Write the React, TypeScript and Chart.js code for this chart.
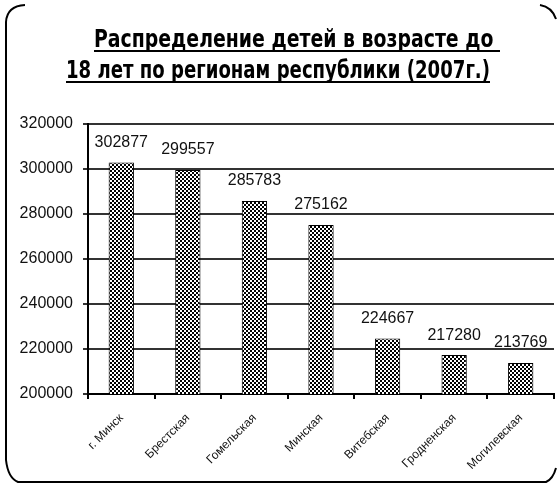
import React, { useEffect, useRef } from "react";
import { Chart, registerables } from "chart.js";

Chart.register(...registerables);

const categories = ["г. Минск", "Брестская", "Гомельская", "Минская", "Витебская", "Гродненская", "Могилевская"];
const values = [302877, 299557, 285783, 275162, 224667, 217280, 213769];
const titleLines = ["Распределение детей в возрасте до ", "18 лет по регионам республики (2007г.)"];
const yMin = 200000;
const yMax = 320000;
const yStep = 20000;

function makePattern(): CanvasPattern | string {
  const c = document.createElement("canvas");
  c.width = 4;
  c.height = 4;
  const g = c.getContext("2d");
  if (!g) return "#666";
  g.fillStyle = "#fff";
  g.fillRect(0, 0, 4, 4);
  g.fillStyle = "#000";
  g.fillRect(0, 0, 2, 2);
  g.fillRect(2, 2, 2, 2);
  const p = g.createPattern(c, "repeat");
  return p || "#666";
}

const framePlugin = {
  id: "frameAndTitle",
  afterDraw(chart: any) {
    const ctx = chart.ctx as CanvasRenderingContext2D;
    ctx.save();
    // frame
    ctx.strokeStyle = "#000";
    ctx.lineWidth = 2;
    ctx.beginPath();
    ctx.moveTo(25, 5);
    ctx.quadraticCurveTo(7, 6, 6, 22);
    ctx.lineTo(6, 460);
    ctx.quadraticCurveTo(8, 478, 18, 482);
    ctx.lineTo(546, 482);
    ctx.quadraticCurveTo(553, 479, 556, 468);
    ctx.moveTo(540, 5);
    ctx.quadraticCurveTo(552, 7, 556, 19);
    ctx.stroke();

    // title
    const specs = [
      { cx: 297, base: 47, w: 406 },
      { cx: 278, base: 78, w: 424 },
    ];
    ctx.fillStyle = "#000";
    ctx.font = 'bold 25px "Liberation Sans Narrow", "DejaVu Sans Condensed", Arial, sans-serif';
    ctx.textBaseline = "alphabetic";
    ctx.textAlign = "center";
    titleLines.forEach((t, i) => {
      const s = specs[i];
      const m = ctx.measureText(t).width;
      const sx = s.w / m;
      ctx.save();
      ctx.translate(s.cx, s.base);
      ctx.scale(sx, 1);
      ctx.fillText(t, 0, 0);
      ctx.restore();
      ctx.fillRect(s.cx - s.w / 2, s.base + 3, s.w, 2);
    });

    // value labels
    const meta = chart.getDatasetMeta(0);
    ctx.font = '16px "Liberation Sans", Arial, sans-serif';
    ctx.fillStyle = "#111";
    ctx.textAlign = "center";
    ctx.textBaseline = "middle";
    meta.data.forEach((bar: any, i: number) => {
      ctx.fillText(String(values[i]), bar.x, bar.y - 20);
    });
    ctx.restore();
  },
};

export default function App() {
  const ref = useRef<HTMLCanvasElement | null>(null);
  useEffect(() => {
    if (!ref.current) return;
    const chart = new Chart(ref.current, {
      type: "bar",
      data: {
        labels: categories,
        datasets: [
          {
            data: values,
            backgroundColor: makePattern() as any,
            borderColor: "#000",
            borderWidth: 1,
            categoryPercentage: 1,
            barPercentage: 0.38,
          },
        ],
      },
      options: {
        animation: false,
        responsive: false,
        layout: { padding: { left: 0, top: 124, right: 4, bottom: 0 } },
        plugins: {
          legend: { display: false },
          title: { display: false },
          tooltip: { enabled: false },
        },
        scales: {
          x: {
            afterFit(scale: any) {
              scale.height = 90;
            },
            grid: {
              drawOnChartArea: false,
              drawTicks: true,
              tickLength: 5,
              color: "#000",
              lineWidth: 2,
              offset: true,
            },
            border: { display: true, color: "#000", width: 2 },
            ticks: {
              maxRotation: 45,
              minRotation: 45,
              padding: 12,
              color: "#111",
              font: { size: 12, family: '"Liberation Sans", Arial, sans-serif' },
              autoSkip: false,
            },
          },
          y: {
            min: yMin,
            max: yMax,
            afterFit(scale: any) {
              scale.width = 88;
            },
            grid: {
              color: "#333",
              lineWidth: 2,
              tickLength: 5,
              drawTicks: true,
            },
            border: { display: true, color: "#000", width: 2 },
            ticks: {
              stepSize: yStep,
              padding: 10,
              color: "#111",
              font: { size: 16, family: '"Liberation Sans", Arial, sans-serif' },
              callback: (v: any) => String(v),
            },
          },
        },
      },
      plugins: [framePlugin],
    });
    return () => chart.destroy();
  }, []);
  return (
    <div style={{ position: "absolute", left: 0, top: 0, width: 558, height: 484, background: "#fff" }}>
      <canvas ref={ref} width={558} height={484} style={{ display: "block" }} />
    </div>
  );
}
